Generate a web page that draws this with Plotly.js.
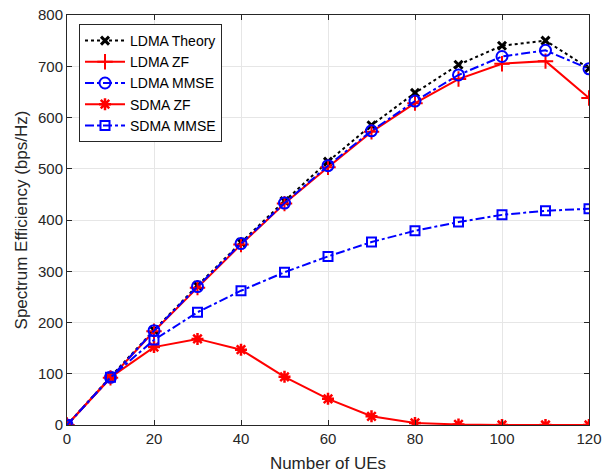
<!DOCTYPE html>
<html><head><meta charset="utf-8">
<script src="https://cdn.plot.ly/plotly-3.0.1.min.js"></script>
<style>html,body{margin:0;padding:0;background:#fff}#plot{width:603px;height:473px}</style>
</head><body><div id="plot"></div>
<script>
const numUEs = [0,10,20,30,40,50,60,70,80,90,100,110,120];
const ldmaTheory = [0,94,185,272,356,437,514,585,648,703,740,750,696];
const ldmaZF = [0,92,183,268,352,432,503,572,628,675,705,710,638];
const ldmaMMSE = [0,93,184,270,354,433,506,574,632,683,719,731,695];
const sdmaZF = [0,93,152,168,147,94,51,17,4,1,0,0,0];
const sdmaMMSE = [0,93,166,220,262,298,329,357,379,396,410,418,422];
const seriesNames = ['LDMA Theory','LDMA ZF','LDMA MMSE','SDMA ZF','SDMA MMSE'];
const xTicks = [0,20,40,60,80,100,120];
const yTicks = [0,100,200,300,400,500,600,700,800];

const FONT = 'Liberation Sans, Arial, Helvetica, sans-serif';

const traces = [
  {x:numUEs, y:ldmaTheory, name:seriesNames[0], mode:'lines+markers',
   line:{color:'#000000', width:2, dash:'dot'},
   marker:{symbol:'x-thin-open', size:8, color:'#000000', line:{width:3, color:'#000000'}}},
  {x:numUEs, y:ldmaZF, name:seriesNames[1], mode:'lines+markers',
   line:{color:'#ff0000', width:2},
   marker:{symbol:'cross-thin-open', size:11, color:'#ff0000', line:{width:2, color:'#ff0000'}}},
  {x:numUEs, y:ldmaMMSE, name:seriesNames[2], mode:'lines+markers',
   line:{color:'#0000ff', width:2, dash:'dashdot'},
   marker:{symbol:'circle-open', size:11, color:'#0000ff', line:{width:2, color:'#0000ff'}}},
  {x:numUEs, y:sdmaZF, name:seriesNames[3], mode:'lines+markers',
   line:{color:'#ff0000', width:2},
   marker:{symbol:'asterisk-open', size:10, color:'#ff0000', line:{width:2.5, color:'#ff0000'}}},
  {x:numUEs, y:sdmaMMSE, name:seriesNames[4], mode:'lines+markers',
   line:{color:'#0000ff', width:2, dash:'dashdot'},
   marker:{symbol:'square-open', size:9, color:'#0000ff', line:{width:2, color:'#0000ff'}}}
];

const axisCommon = {
  showline:true, linecolor:'#262626', linewidth:1, mirror:'ticks',
  ticks:'inside', ticklen:5, tickcolor:'#262626',
  showgrid:true, gridcolor:'#e6e6e6', gridwidth:1, zeroline:false,
  tickfont:{family:FONT, size:15, color:'#262626'}
};

const layout = {
  width:603, height:473,
  margin:{l:67, r:14, t:15, b:48},
  paper_bgcolor:'#ffffff', plot_bgcolor:'#ffffff',
  showlegend:true,
  xaxis:Object.assign({}, axisCommon, {range:[0,120], tickvals:xTicks,
    title:{text:'Number of UEs', standoff:11, font:{family:FONT, size:17, color:'#262626'}}}),
  yaxis:Object.assign({}, axisCommon, {range:[0,800], tickvals:yTicks,
    title:{text:'Spectrum Efficiency (bps/Hz)', standoff:6, font:{family:FONT, size:17, color:'#262626'}}}),
  legend:{x:0.023, y:0.978, xanchor:'left', yanchor:'top', bgcolor:'#ffffff',
    bordercolor:'#262626', borderwidth:1, tracegroupgap:0, itemwidth:40,
    font:{family:FONT, size:14, color:'#000000'}}
};

Plotly.newPlot('plot', traces, layout, {displayModeBar:false, staticPlot:true});
</script>
</body></html>
